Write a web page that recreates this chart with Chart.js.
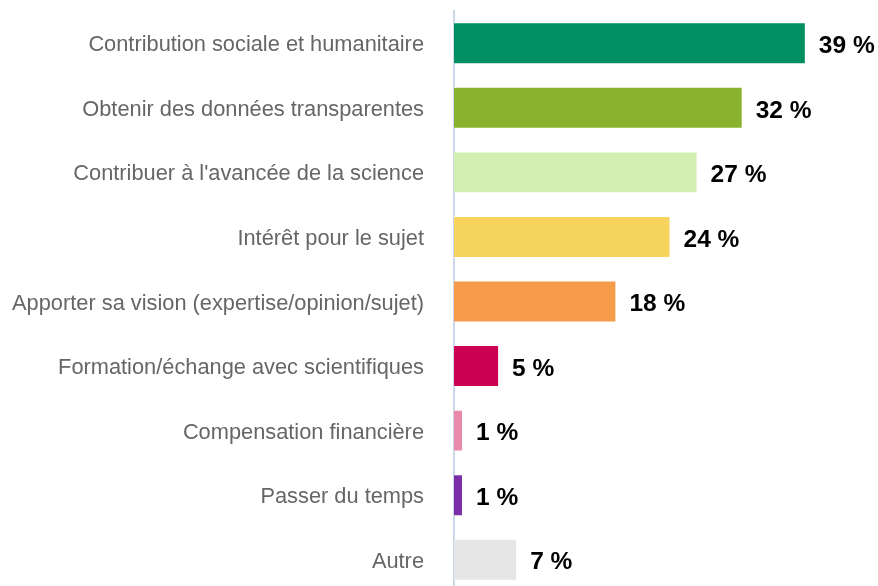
<!DOCTYPE html>
<html>
<head>
<meta charset="utf-8">
<script src="https://cdn.jsdelivr.net/npm/chart.js@4.4.0/dist/chart.umd.min.js"></script>
<style>
  html, body { margin: 0; padding: 0; background: #fff; overflow: hidden; }
  #wrap { position: relative; width: 878px; height: 592px; }
</style>
</head>
<body>
<div id="wrap"><canvas id="chart"></canvas></div>
<script>
const categories = [
  'Contribution sociale et humanitaire',
  'Obtenir des données transparentes',
  "Contribuer à l'avancée de la science",
  'Intérêt pour le sujet',
  'Apporter sa vision (expertise/opinion/sujet)',
  'Formation/échange avec scientifiques',
  'Compensation financière',
  'Passer du temps',
  'Autre'
]
const percentages = [39, 32, 27, 24, 18, 5, 1, 1, 7]
const barColors = [
  '#008f61', '#8ab22f', '#d3f0b2', '#f5d35c', '#f59b4a',
  '#cc0052', '#e98aab', '#7a2fa8', '#e6e6e6'
]

// value labels to the right of each bar
const valueLabels = {
  id: 'valueLabels',
  afterDatasetsDraw(chart) {
    const ctx = chart.ctx
    const meta = chart.getDatasetMeta(0)
    ctx.save()
    ctx.font = 'bold 24.5px "Liberation Sans", Arial, sans-serif'
    ctx.fillStyle = '#000'
    ctx.textAlign = 'left'
    ctx.textBaseline = 'middle'
    meta.data.forEach((bar, i) => {
      ctx.fillText(percentages[i] + ' %', bar.x + 13, bar.y + 3)
    })
    ctx.restore()
  }
}

new Chart(document.getElementById('chart'), {
  type: 'bar',
  data: {
    labels: categories,
    datasets: [{
      data: percentages,
      backgroundColor: barColors,
      borderColor: '#ffffff',
      borderWidth: 1,
      categoryPercentage: 1,
      barPercentage: 0.65
    }]
  },
  options: {
    indexAxis: 'y',
    responsive: true,
    maintainAspectRatio: false,
    animation: false,
    layout: { padding: { top: 11, bottom: 0, left: 0, right: 0 } },
    plugins: {
      legend: { display: false },
      tooltip: { enabled: false }
    },
    scales: {
      x: {
        display: false,
        min: 0,
        max: 47
      },
      y: {
        afterFit(scale) {
          scale.width = 454
          scale.paddingTop = 0
          scale.paddingBottom = 0
        },
        grid: { display: false, drawTicks: false },
        border: { display: true, color: '#ccd6eb', width: 2 },
        ticks: {
          color: '#666666',
          padding: 30,
          labelOffset: 2,
          font: { family: '"Liberation Sans", Arial, sans-serif', size: 21.8 }
        }
      }
    }
  },
  plugins: [valueLabels]
})
</script>
</body>
</html>
